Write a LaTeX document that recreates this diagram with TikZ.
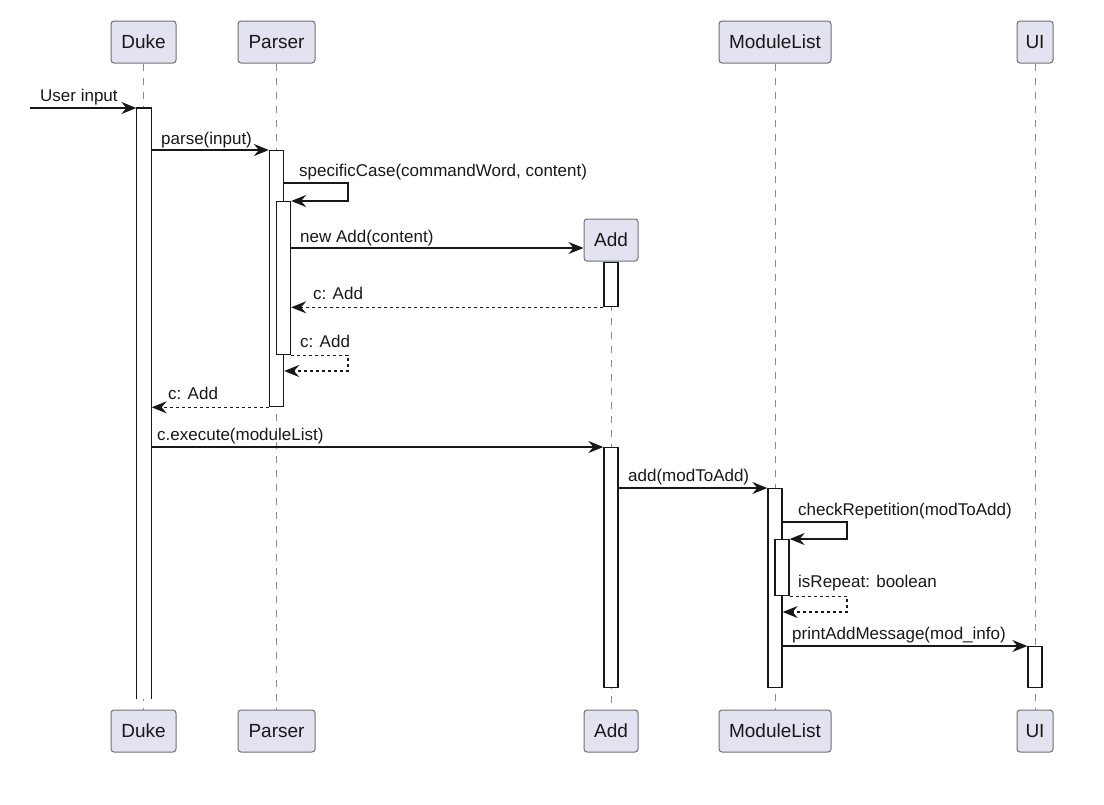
\documentclass[tikz,border=0pt]{standalone}
\usepackage{fontspec}
\setmainfont{Liberation Sans}
\usetikzlibrary{arrows.meta}
\definecolor{boxfill}{HTML}{E2E2F0}
\definecolor{ink}{HTML}{181818}
\definecolor{boxline}{HTML}{707070}
\definecolor{lifeline}{HTML}{8A8A8A}
\begin{document}
\begin{tikzpicture}[x=1pt,y=-1pt,
  part/.style={draw=boxline, line width=1pt, fill=boxfill, rounded corners=3pt, minimum height=42pt, inner sep=0pt, font=\fontsize{19}{22}\selectfont, text=ink},
  life/.style={draw=lifeline, line width=1pt, dash pattern=on 7pt off 7pt},
  bar/.style={draw=ink, line width=1.3pt, fill=white, minimum width=14pt, inner sep=0pt, anchor=north},
  msg/.style={draw=ink, line width=1.3pt, -{Stealth[length=15pt,width=12pt,inset=5pt]}},
  ret/.style={msg, dash pattern=on 3pt off 3pt},
  lbl/.style={anchor=base west, inner sep=0pt, font=\fontsize{17}{20}\selectfont, text=ink}]
\useasboundingbox (0,0) rectangle (1104,804);

% participants (top)
\node[part, minimum width=65pt] (duke) at (143.5,42) {Duke};
\node[part, minimum width=77pt] (parser) at (276.5,42) {Parser};
\node[part, minimum width=112pt] (ml) at (775,42) {ModuleList};
\node[part, minimum width=36pt] (ui) at (1035,42) {UI};
\node[part, minimum width=54pt] (add) at (611,240) {Add};
% participants (bottom)
\node[part, minimum width=65pt] (dukeB) at (143.5,731) {Duke};
\node[part, minimum width=77pt] (parserB) at (276.5,731) {Parser};
\node[part, minimum width=54pt] (addB) at (611,731) {Add};
\node[part, minimum width=112pt] (mlB) at (775,731) {ModuleList};
\node[part, minimum width=36pt] (uiB) at (1035,731) {UI};

% lifelines
\draw[life] (duke.south) -- (dukeB.north);
\draw[life] (parser.south) -- (parserB.north);
\draw[life] (add.south) -- (addB.north);
\draw[life] (ml.south) -- (mlB.north);
\draw[life] (ui.south) -- (uiB.north);

% activation bars
\node[bar, draw=none, minimum height=590pt] (dukebar) at (144,108) {};
\draw[ink, line width=1.3pt] (dukebar.south west) -- (dukebar.north west) -- (dukebar.north east) -- (dukebar.south east);
\node[bar, minimum height=256pt] (pbar) at (276.5,150) {};
\node[bar, minimum height=153pt] (pn) at (283.5,201) {};
\node[bar, minimum height=44pt] (abar1) at (611,262) {};
\node[bar, minimum height=240pt] (abar2) at (611,447) {};
\node[bar, minimum height=199pt] (mbar) at (775,488) {};
\node[bar, minimum height=56pt] (mn) at (782,539) {};
\node[bar, minimum height=41pt] (ubar) at (1035,646) {};

% messages
\coordinate (ext) at (30,108);
\draw[msg] (ext) -- (dukebar.north west);
\node[lbl] (l1) at (40,101) {User input};

\draw[msg] (dukebar.east |- pbar.north) -- (pbar.north west);
\node[lbl] (l2) at (161,144) {parse(input)};

\coordinate (sc1) at (348,183);
\draw[msg] (pbar.east |- sc1) -- (sc1) -- (sc1 |- pn.north) -- (pn.north east);
\node[lbl] (l3) at (299,176) {specificCase(commandWord, content)};

\coordinate (na) at (611,248);
\draw[msg] (pn.east |- na) -- (add.west |- na);
\node[lbl] (l4) at (300,242) {new Add(content)};

\draw[ret] (abar1.south west) -- (pn.east |- abar1.south);
\node[lbl] (l5) at (313,299) {c: Add};

\coordinate (sr1) at (348,371);
\draw[ret] (pn.south east) -- (sr1 |- pn.south) -- (sr1) -- (pbar.east |- sr1);
\node[lbl] (l6) at (300,347) {c: Add};

\draw[ret] (pbar.south west) -- (dukebar.east |- pbar.south);
\node[lbl] (l7) at (168,399) {c: Add};

\draw[msg] (dukebar.east |- abar2.north) -- (abar2.north west);
\node[lbl] (l8) at (157,440) {c.execute(moduleList)};

\draw[msg] (abar2.east |- mbar.north) -- (mbar.north west);
\node[lbl] (l9) at (628,481) {add(modToAdd)};

\coordinate (cr1) at (847,522);
\draw[msg] (mbar.east |- cr1) -- (cr1) -- (cr1 |- mn.north) -- (mn.north east);
\node[lbl] (l10) at (798,515) {checkRepetition(modToAdd)};

\coordinate (ir1) at (847,612);
\draw[ret] (mn.south east) -- (ir1 |- mn.south) -- (ir1) -- (mbar.east |- ir1);
\node[lbl] (l11) at (798,587) {isRepeat: boolean};

\draw[msg] (mbar.east |- ubar.north) -- (ubar.north west);
\node[lbl] (l12) at (792,639) {printAddMessage(mod\_info)};
\end{tikzpicture}
\end{document}
